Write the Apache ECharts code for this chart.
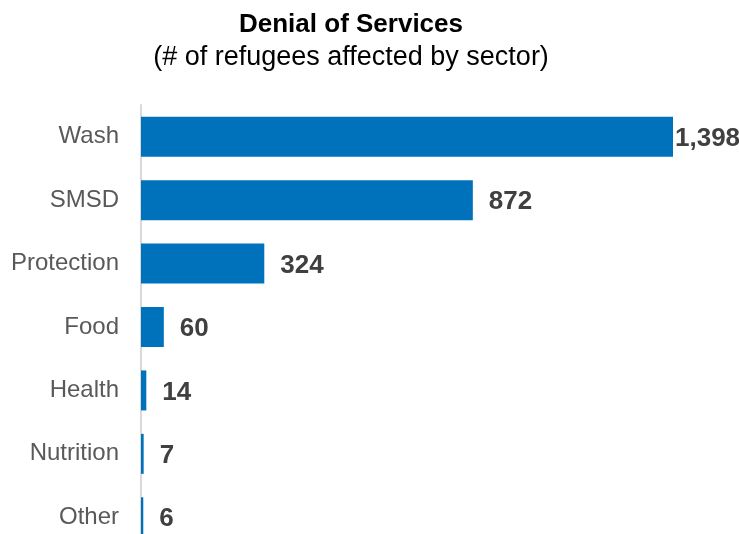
<!DOCTYPE html>
<html>
<head>
<meta charset="utf-8">
<script src="https://cdn.jsdelivr.net/npm/echarts@6/dist/echarts.min.js"></script>
<style>html,body{margin:0;padding:0;background:#fff;overflow:hidden;}#c{width:739px;height:549px;}</style>
</head>
<body>
<div id="c"></div>
<script>
const categories = ['Wash', 'SMSD', 'Protection', 'Food', 'Health', 'Nutrition', 'Other'];
const values = [1398, 872, 324, 60, 14, 7, 6];
const titleText = 'Denial of Services';
const subtitleText = '(# of refugees affected by sector)';

const chart = echarts.init(document.getElementById('c'), null, {renderer: 'canvas'});
const data = values.map((v, i) => i === 0 ? {value: v, label: {distance: 2}} : {value: v});
chart.setOption({
  animation: false,
  graphic: [
    {type: 'text', x: 351, y: 25, style: {text: titleText, textAlign: 'center', textVerticalAlign: 'middle', font: 'bold 26px "Liberation Sans", Arial, sans-serif', fill: '#000'}},
    {type: 'text', x: 351, y: 58, style: {text: subtitleText, textAlign: 'center', textVerticalAlign: 'middle', font: '27px "Liberation Sans", Arial, sans-serif', fill: '#000'}}
  ],
  grid: {left: 141, top: 105, width: 532, bottom: 0, containLabel: false},
  xAxis: {type: 'value', min: 0, max: 1398, show: false},
  yAxis: {
    type: 'category', data: categories, inverse: true,
    axisLine: {show: true, lineStyle: {color: '#d9d9d9', width: 2}},
    axisTick: {show: false},
    splitLine: {show: false},
    axisLabel: {margin: 22, fontSize: 24, color: '#595959', fontFamily: '"Liberation Sans", Arial, sans-serif'}
  },
  series: [{
    type: 'bar', data: data, barWidth: 40,
    itemStyle: {color: '#0072BC'},
    label: {show: true, position: 'right', distance: 16, offset: [0, 2], fontSize: 26, fontWeight: 'bold', color: '#404040', fontFamily: '"Liberation Sans", Arial, sans-serif',
      formatter: p => p.value.toLocaleString('en-US')}
  }]
});
</script>
</body>
</html>
